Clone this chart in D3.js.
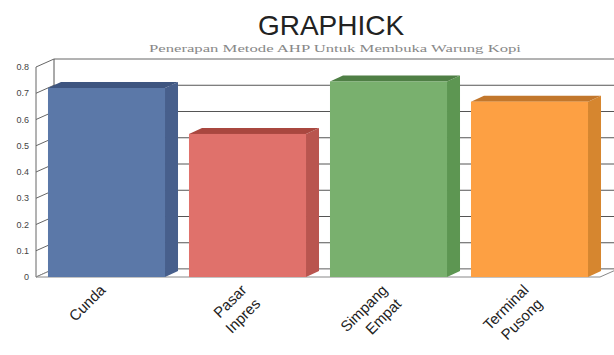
<!DOCTYPE html>
<html>
<head>
<meta charset="utf-8">
<script src="https://cdn.jsdelivr.net/npm/d3@7"></script>
<style>
  html, body { margin: 0; padding: 0; background: #fff; }
  svg { display: block; }
</style>
</head>
<body>
<div id="chart"></div>
<script>
// data
const categories = ["Cunda", "Pasar Inpres", "Simpang Empat", "Terminal Pusong"];
const labelLines = [["Cunda"], ["Pasar", "Inpres"], ["Simpang", "Empat"], ["Terminal", "Pusong"]];
const values = [0.72, 0.545, 0.745, 0.668];
const yTicks = [0, 0.1, 0.2, 0.3, 0.4, 0.5, 0.6, 0.7, 0.8];
const frontColors = ["#5b78a8", "#e0716b", "#79b06e", "#fda043"];
const topColors = ["#3e5580", "#a9473f", "#4f7f45", "#c2772c"];
const sideColors = ["#475f8c", "#b9554f", "#5d9652", "#d6862f"];

const width = 614;
const height = 355;

// 3d depth of the back wall and of the bars
const wallDx = 18, wallDy = -8;
const barDx = 13, barDy = -6;

const svg = d3.select("#chart").append("svg")
  .attr("width", width)
  .attr("height", height);

const x = d3.scaleBand()
  .domain(categories)
  .range([36, 600])
  .paddingInner(0.17)
  .paddingOuter(0.085);

const y = d3.scaleLinear()
  .domain([0, 0.8])
  .range([277, 67]);

const x0 = x.range()[0];
const x1 = x.range()[1];

// title
svg.append("text")
  .attr("x", 331)
  .attr("y", 35)
  .attr("text-anchor", "middle")
  .attr("font-family", "Liberation Sans, Arial, sans-serif")
  .attr("font-size", 28)
  .attr("fill", "#222")
  .text("GRAPHICK");

svg.append("text")
  .attr("x", 149)
  .attr("y", 52)
  .attr("textLength", 372)
  .attr("lengthAdjust", "spacingAndGlyphs")
  .attr("font-family", "Liberation Serif, Times New Roman, serif")
  .attr("font-size", 11)
  .attr("fill", "#888")
  .text("Penerapan Metode AHP Untuk Membuka Warung Kopi");

// back wall grid
const grid = svg.append("g");
grid.selectAll("line.grid")
  .data(yTicks)
  .join("line")
  .attr("class", "grid")
  .attr("x1", x0 + wallDx)
  .attr("x2", width + 5)
  .attr("y1", d => y(d) + wallDy)
  .attr("y2", d => y(d) + wallDy)
  .attr("stroke", d => d === 0.8 ? "#666" : "#555")
  .attr("stroke-width", 1);

// back wall left edge
grid.append("line")
  .attr("x1", x0 + wallDx).attr("x2", x0 + wallDx)
  .attr("y1", y(0.8) + wallDy).attr("y2", y(0) + wallDy)
  .attr("stroke", "#555");

// left side wall: front edge + diagonals
grid.append("line")
  .attr("x1", x0).attr("x2", x0)
  .attr("y1", y(0.8)).attr("y2", y(0))
  .attr("stroke", "#666");

grid.selectAll("line.diag")
  .data(yTicks)
  .join("line")
  .attr("class", "diag")
  .attr("x1", x0)
  .attr("y1", d => y(d))
  .attr("x2", x0 + wallDx)
  .attr("y2", d => y(d) + wallDy)
  .attr("stroke", "#666");

// floor
svg.append("path")
  .attr("d", `M${x0},${y(0)} L${x1},${y(0)} L${x1 + wallDx},${y(0) + wallDy} L${x0 + wallDx},${y(0) + wallDy} Z`)
  .attr("fill", "#fff")
  .attr("stroke", "#888");

// y labels
svg.append("g").selectAll("text")
  .data(yTicks)
  .join("text")
  .attr("x", 29)
  .attr("y", d => y(d) + 3)
  .attr("text-anchor", "end")
  .attr("font-family", "Liberation Sans, Arial, sans-serif")
  .attr("font-size", 9)
  .attr("fill", "#444")
  .text(d => d === 0 ? "0" : d3.format(".1f")(d));

// bars
const bars = svg.append("g").selectAll("g")
  .data(categories.map((c, i) => ({ c, v: values[i], i })))
  .join("g");

bars.append("path")
  .attr("d", d => {
    const l = x(d.c), r = l + x.bandwidth(), t = y(d.v);
    return `M${r},${t} L${r + barDx},${t + barDy} L${r + barDx},${y(0) + barDy} L${r},${y(0)} Z`;
  })
  .attr("fill", d => sideColors[d.i]);

bars.append("path")
  .attr("d", d => {
    const l = x(d.c), r = l + x.bandwidth(), t = y(d.v);
    return `M${l},${t} L${l + barDx},${t + barDy} L${r + barDx},${t + barDy} L${r},${t} Z`;
  })
  .attr("fill", d => topColors[d.i]);

bars.append("rect")
  .attr("x", d => x(d.c))
  .attr("y", d => y(d.v))
  .attr("width", x.bandwidth())
  .attr("height", d => y(0) - y(d.v))
  .attr("fill", d => frontColors[d.i]);

// category labels
const lab = svg.append("g").selectAll("text")
  .data(categories.map((c, i) => ({ c, i })))
  .join("text")
  .attr("transform", d => `translate(${x(d.c) + x.bandwidth() / 2},${y(0) + 14}) rotate(-45)`)
  .attr("text-anchor", "end")
  .attr("font-family", "Liberation Sans, Arial, sans-serif")
  .attr("font-size", 15)
  .attr("fill", "#222");

lab.selectAll("tspan")
  .data(d => labelLines[d.i])
  .join("tspan")
  .attr("x", 0)
  .attr("dy", (d, j) => j === 0 ? 0 : "1.3em")
  .text(d => d);
</script>
</body>
</html>
